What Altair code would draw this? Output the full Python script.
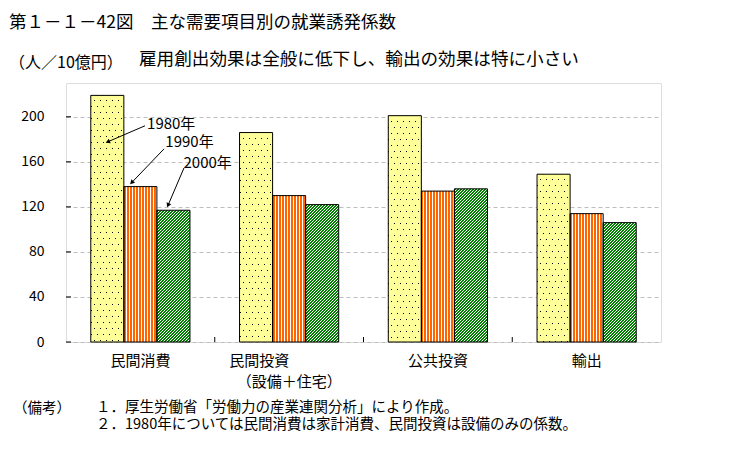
import math
import altair as alt
import pandas as pd

# ---------------- data ----------------
categories = ["民間消費", "民間投資", "公共投資", "輸出"]
years = ["1980年", "1990年", "2000年"]
values_1980 = [219, 186, 201, 149]
values_1990 = [138, 130, 134, 114]
values_2000 = [117, 122, 136, 106]

y_ticks = [0, 40, 80, 120, 160, 200]
y_max = 230

title_text = ["第１－１－42図　主な需要項目別の就業誘発係数"]
subtitle_text = ["雇用創出効果は全般に低下し、輸出の効果は特に小さい"]
unit_text = ["（人／10億円）"]
note_head = ["（備考）"]
note_lines = ["１．厚生労働省「労働力の産業連関分析」により作成。",
              "２．1980年については民間消費は家計消費、民間投資は設備のみの係数。"]
invest_label = ["民間投資　　　　\u200b", "（設備＋住宅）"]

# annotation arrows (u = category units 0..4, v = value units)
ann_labels = ["1980年", "1990年", "2000年"]
ann_text_u = [0.545, 0.668, 0.790]
ann_text_v = [194, 178, 159]
ann_tail_u = [0.531, 0.659, 0.793]
ann_tail_v = [192, 171.5, 154.5]
ann_tip_u = [0.285, 0.445, 0.688]
ann_tip_v = [178, 142, 122]
boundary_u = [1, 2, 3]

# ---------------- style ----------------
FONT = "Noto Sans CJK JP"
PLOT_W, PLOT_H = 595, 259
YELLOW = "#FFFF99"
ORANGE = "#FF6600"
GREEN = "#008000"
WHITE = "#FFFFFF"
CLEAR = "rgba(255,255,255,0)"

rows = []
for i, c in enumerate(categories):
    for yr, vals in zip(years, [values_1980, values_1990, values_2000]):
        rows.append({"category": c, "year": yr, "value": vals[i]})
df = pd.DataFrame(rows)

BAR_W = PLOT_W / len(categories) / (len(years) + 1.5)

y_scale = alt.Scale(domain=[0, y_max], nice=False, zero=True)
x_scale = alt.Scale(domain=categories, paddingInner=0, paddingOuter=0)
xo_scale = alt.Scale(domain=years, paddingInner=0, paddingOuter=0.75)
u_scale = alt.Scale(domain=[0, 4], nice=False, zero=False)

y_axis = alt.Axis(title=None, values=y_ticks, grid=True, gridDash=[4, 3],
                  gridColor="#BEBEBE", gridWidth=1, ticks=False, domain=False,
                  labelFontSize=14, labelFont=FONT, labelColor="black",
                  labelPadding=22)
x_axis = alt.Axis(title=None, labelAngle=0, ticks=False, domain=False, grid=False,
                  labelFontSize=15, labelFont=FONT, labelColor="black",
                  labelPadding=11, labelLineHeight=21,
                  labelExpr="datum.value == '%s' ? ['%s', '%s'] : datum.value"
                  % (categories[1], invest_label[0], invest_label[1]))


def stripe_stops(n, frac, c_on, c_off):
    stops = []
    k = 0
    while k / n < 1:
        s, e, f = k / n, (k + frac) / n, (k + 1) / n
        for a, b, col in ((s, e, c_on), (e, f, c_off)):
            a2, b2 = max(0.0, min(1.0, a)), max(0.0, min(1.0, b))
            if b2 > a2:
                stops.append({"offset": round(a2, 6), "color": col})
                stops.append({"offset": round(b2, 6), "color": col})
        k += 1
    return stops


def stripe_gradient(W, H, dirx, diry, period, on_w, c_on, c_off):
    a0, b0 = diry, -dirx
    s = a0 * W + b0 * H
    a, b = a0 / s, b0 / s
    A, B = a * W, b * H
    d = A * A + B * B
    x2, y2 = A / d, B / d
    dt = a * period if a > 0 else b * period
    n = 1.0 / dt
    return {"gradient": "linear", "x1": 0, "y1": 0, "x2": x2, "y2": y2,
            "stops": stripe_stops(n, on_w / period, c_on, c_off)}


def bar_base(data_filter=None, with_axis=False):
    ch = alt.Chart(df)
    if data_filter is not None:
        ch = ch.transform_filter(data_filter)
    return ch.encode(
        x=alt.X("category:N", sort=categories, scale=x_scale,
                axis=x_axis if with_axis else None),
        xOffset=alt.XOffset("year:N", sort=years, scale=xo_scale),
        y=alt.Y("value:Q", scale=y_scale, axis=y_axis),
    )


layers = [bar_base(with_axis=True).mark_bar(opacity=0)]

# 1980: yellow with staggered dots
layers.append(bar_base(alt.datum.year == years[0]).mark_bar(fill=YELLOW, strokeWidth=0))
for i, c in enumerate(categories):
    H = values_1980[i] * PLOT_H / y_max
    flt = (alt.datum.year == years[0]) & (alt.datum.category == c)
    g_lines = stripe_gradient(BAR_W, H, -1, 2, 6, 1, "#000000", CLEAR)
    g_mask = stripe_gradient(BAR_W, H, -1, 0, 6, 5, YELLOW, CLEAR)
    layers.append(bar_base(flt).mark_bar(fill=g_lines, strokeWidth=0))
    layers.append(bar_base(flt).mark_bar(fill=g_mask, strokeWidth=0))

# 1990: orange vertical stripes
for i, c in enumerate(categories):
    H = values_1990[i] * PLOT_H / y_max
    flt = (alt.datum.year == years[1]) & (alt.datum.category == c)
    g = stripe_gradient(BAR_W, H, 0, 1, 3, 2, ORANGE, WHITE)
    layers.append(bar_base(flt).mark_bar(fill=g, strokeWidth=0))

# 2000: green diagonal stripes
for i, c in enumerate(categories):
    H = values_2000[i] * PLOT_H / y_max
    flt = (alt.datum.year == years[2]) & (alt.datum.category == c)
    g = stripe_gradient(BAR_W, H, -1, 1, 3, 2, GREEN, WHITE)
    layers.append(bar_base(flt).mark_bar(fill=g, strokeWidth=0))

# outlines
layers.append(bar_base().mark_bar(fill="transparent", stroke="black", strokeWidth=1))

# inward y ticks
layers.append(alt.Chart(pd.DataFrame({"value": y_ticks})).mark_rule(color="black", strokeWidth=1).encode(
    y=alt.Y("value:Q", scale=y_scale, axis=y_axis), x=alt.value(0), x2=alt.value(5)))

# annotations
ann_df = pd.DataFrame({
    "label": ann_labels, "tu": ann_text_u, "tv": ann_text_v,
    "au": ann_tail_u, "av": ann_tail_v, "bu": ann_tip_u, "bv": ann_tip_v,
})
xs = PLOT_W / 4
ys = PLOT_H / y_max
angs = []
for au, av, bu, bv in zip(ann_tail_u, ann_tail_v, ann_tip_u, ann_tip_v):
    dx = (bu - au) * xs
    dy = -(bv - av) * ys
    angs.append((math.degrees(math.atan2(dx, -dy)) + 360) % 360)
ann_df["ang"] = angs

layers.append(alt.Chart(ann_df).mark_rule(color="black", strokeWidth=1).encode(
    x=alt.X("au:Q", scale=u_scale, axis=None), x2="bu:Q",
    y=alt.Y("av:Q", scale=y_scale, axis=y_axis), y2="bv:Q"))
layers.append(alt.Chart(ann_df).mark_point(shape="triangle", filled=True, color="black",
                                           size=26, opacity=1).encode(
    x=alt.X("bu:Q", scale=u_scale, axis=None),
    y=alt.Y("bv:Q", scale=y_scale, axis=y_axis),
    angle=alt.Angle("ang:Q", scale=None)))
layers.append(alt.Chart(ann_df).mark_text(align="left", baseline="middle", fontSize=15,
                                          font=FONT, color="black").encode(
    x=alt.X("tu:Q", scale=u_scale, axis=None),
    y=alt.Y("tv:Q", scale=y_scale, axis=y_axis),
    text="label:N"))
layers.append(alt.Chart(pd.DataFrame({"u": boundary_u})).mark_rule(color="black", strokeWidth=1).encode(
    x=alt.X("u:Q", scale=u_scale, axis=None), y=alt.value(PLOT_H), y2=alt.value(PLOT_H - 5)))


def label(texts, x, y, size, align="left"):
    return alt.Chart(pd.DataFrame({"t": texts})).mark_text(
        x=x, y=y, align=align, baseline="middle", fontSize=size, font=FONT, color="black"
    ).encode(text="t:N")


notes_block = alt.Chart(pd.DataFrame({"k": [0]})).mark_text(
    text=note_lines, x=30, y=318, align="left", baseline="top", lineHeight=17,
    fontSize=14.5, font=FONT, color="black"
).encode(opacity=alt.value(1))

layers += [
    label(title_text, -57, -60, 17.5),
    label(unit_text, -57, -20, 16),
    label(subtitle_text, 73, -23, 17.6),
    label(note_head, -53, 326, 14.5),
    notes_block,
]

chart = alt.layer(*layers).resolve_scale(x="independent").properties(
    width=PLOT_W, height=PLOT_H,
    autosize=alt.AutoSizeParams(type="none"),
    padding={"left": 58, "top": 75, "right": 65, "bottom": 104},
    background="white",
).configure_view(stroke="black", strokeWidth=2).configure(font=FONT)

chart.save("out.html", embed_options={"renderer": "svg", "actions": False})
